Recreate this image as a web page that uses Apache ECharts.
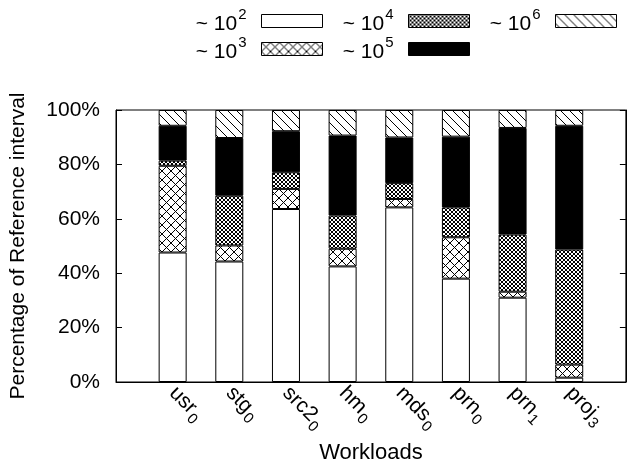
<!DOCTYPE html>
<html>
<head>
<meta charset="utf-8">
<script src="https://cdn.jsdelivr.net/npm/echarts@6/dist/echarts.min.js"></script>
<style>
html,body{margin:0;padding:0;background:#fff;}
#main{width:628px;height:471px;}
</style>
</head>
<body>
<div id="main"></div>
<script>
// ---- data ----
var categories = ['usr\u2080', 'stg\u2080', 'src2\u2080', 'hm\u2080', 'mds\u2080', 'prn\u2080', 'prn\u2081', 'proj\u2083'];
var seriesNames = ['~ 10\u00b2', '~ 10\u00b3', '~ 10\u2074', '~ 10\u2075', '~ 10\u2076'];
var v1e2 = [47.6, 44.3, 63.6, 42.5, 64.2, 38.0, 31.0, 1.6];
var v1e3 = [31.9, 5.9, 7.4, 6.5, 3.1, 15.2, 2.2, 4.8];
var v1e4 = [1.9, 18.3, 6.1, 12.2, 5.8, 11.0, 21.0, 42.3];
var v1e5 = [12.8, 21.2, 15.1, 29.4, 16.8, 26.0, 39.2, 45.5];
var v1e6 = [5.8, 10.3, 7.8, 9.4, 10.1, 9.8, 6.6, 5.8];
var yTicks = [0, 20, 40, 60, 80, 100];

// ---- patterns ----
function makeTile(size, draw) {
  var c = document.createElement('canvas');
  c.width = size; c.height = size;
  var ctx = c.getContext('2d');
  ctx.fillStyle = '#fff';
  ctx.fillRect(0, 0, size, size);
  ctx.strokeStyle = '#000';
  ctx.lineWidth = 1;
  draw(ctx, size);
  return {image: c, repeat: 'repeat'};
}
function back(ctx, s) {
  for (var k = -s; k <= s; k += s) {
    ctx.beginPath(); ctx.moveTo(k - 1, -1); ctx.lineTo(k + s + 1, s + 1); ctx.stroke();
  }
}
function fwd(ctx, s) {
  for (var k = -s; k <= s; k += s) {
    ctx.beginPath(); ctx.moveTo(k - 1, s + 1); ctx.lineTo(k + s + 1, -1); ctx.stroke();
  }
}
var fills = [
  '#ffffff',
  makeTile(9, function (ctx, s) { back(ctx, s); fwd(ctx, s); }),
  makeTile(4, function (ctx, s) { back(ctx, s); fwd(ctx, s); }),
  '#000000',
  makeTile(9, function (ctx, s) { back(ctx, s); })
];
var values = [v1e2, v1e3, v1e4, v1e5, v1e6];

var FONT = 'Liberation Sans, Arial, Helvetica, sans-serif';
var xData = [''].concat(categories).concat(['']);

var SUB = '\u2080\u2081\u2082\u2083\u2084\u2085\u2086\u2087\u2088\u2089';
var SUP = {'\u00b2': '2', '\u00b3': '3', '\u2074': '4', '\u2075': '5', '\u2076': '6'};
function richSub(s) {
  var out = '', buf = '';
  for (var i = 0; i < s.length; i++) {
    var idx = SUB.indexOf(s[i]);
    if (idx >= 0) { if (buf) { out += '{m|' + buf + '}'; buf = ''; } out += '{s|' + idx + '}'; }
    else buf += s[i];
  }
  if (buf) out += '{m|' + buf + '}';
  return out;
}
function richSup(s) {
  var out = '', buf = '';
  for (var i = 0; i < s.length; i++) {
    if (SUP[s[i]]) { if (buf) { out += '{m|' + buf + '}'; buf = ''; } out += '{p|' + SUP[s[i]] + '}'; }
    else buf += s[i];
  }
  if (buf) out += '{m|' + buf + '}';
  return out;
}

var series = seriesNames.map(function (name, i) {
  return {
    name: name,
    type: 'bar',
    stack: 'total',
    barWidth: 28,
    data: ['-'].concat(values[i]).concat(['-']),
    itemStyle: {color: fills[i], borderColor: '#000', borderWidth: 1},
    emphasis: {disabled: true},
    silent: true
  };
});

var legendPos = [[0, 305, 7], [1, 305, 35], [2, 158, 7], [3, 158, 35], [4, 11, 7]];
var legends = legendPos.map(function (p) {
  return {
    data: [seriesNames[p[0]]],
    right: p[1], top: p[2],
    padding: 0,
    align: 'right',
    itemWidth: 61, itemHeight: 13,
    icon: 'rect',
    selectedMode: false,
    itemStyle: {borderColor: '#000', borderWidth: 1},
    formatter: function (n) { return richSup(n); },
    textStyle: {
      fontFamily: FONT, fontSize: 20, color: '#000', padding: [0, 10, 0, 0],
      rich: {
        m: {fontFamily: FONT, fontSize: 21, color: '#000', lineHeight: 22, padding: [6, 0, 0, 0]},
        p: {fontFamily: FONT, fontSize: 15, color: '#000', lineHeight: 15, padding: [0, 0, 13, 1]}
      }
    }
  };
});

var chart = echarts.init(document.getElementById('main'), null, {renderer: 'canvas'});
chart.setOption({
  animation: false,
  backgroundColor: '#fff',
  legend: legends,
  grid: {left: 114, right: -1, top: 110, bottom: 89, show: true, borderColor: '#000', borderWidth: 1, backgroundColor: 'transparent'},
  xAxis: {
    type: 'category',
    data: xData,
    boundaryGap: false,
    name: 'Workloads',
    nameLocation: 'middle',
    nameGap: 58,
    nameTextStyle: {fontFamily: FONT, fontSize: 22, color: '#000'},
    axisLine: {lineStyle: {color: '#000'}},
    axisTick: {show: false},
    axisLabel: {
      interval: 0, rotate: -45, margin: 8, color: '#000',
      formatter: function (v) { return richSub(v); },
      rich: {
        m: {fontFamily: FONT, fontSize: 21, color: '#000', lineHeight: 22},
        s: {fontFamily: FONT, fontSize: 15, color: '#000', lineHeight: 15, padding: [14, 0, 0, 1]}
      }
    }
  },
  yAxis: [{
    type: 'value',
    min: 0, max: 100, interval: 20,
    name: 'Percentage of Reference interval',
    nameLocation: 'middle',
    nameGap: 87,
    nameTextStyle: {fontFamily: FONT, fontSize: 21, color: '#000'},
    axisLine: {show: true, lineStyle: {color: '#000'}},
    axisTick: {show: true, inside: true, length: 6, lineStyle: {color: '#000'}},
    splitLine: {show: false},
    axisLabel: {formatter: '{value}%', margin: 16, fontFamily: FONT, fontSize: 21, color: '#000',
      customValues: yTicks}
  }, {
    type: 'value',
    position: 'right',
    min: 0, max: 100, interval: 20,
    axisLine: {show: true, lineStyle: {color: '#000'}},
    axisTick: {show: true, inside: true, length: 6, lineStyle: {color: '#000'}},
    splitLine: {show: false},
    axisLabel: {show: false}
  }],
  series: series
});
</script>
</body>
</html>
